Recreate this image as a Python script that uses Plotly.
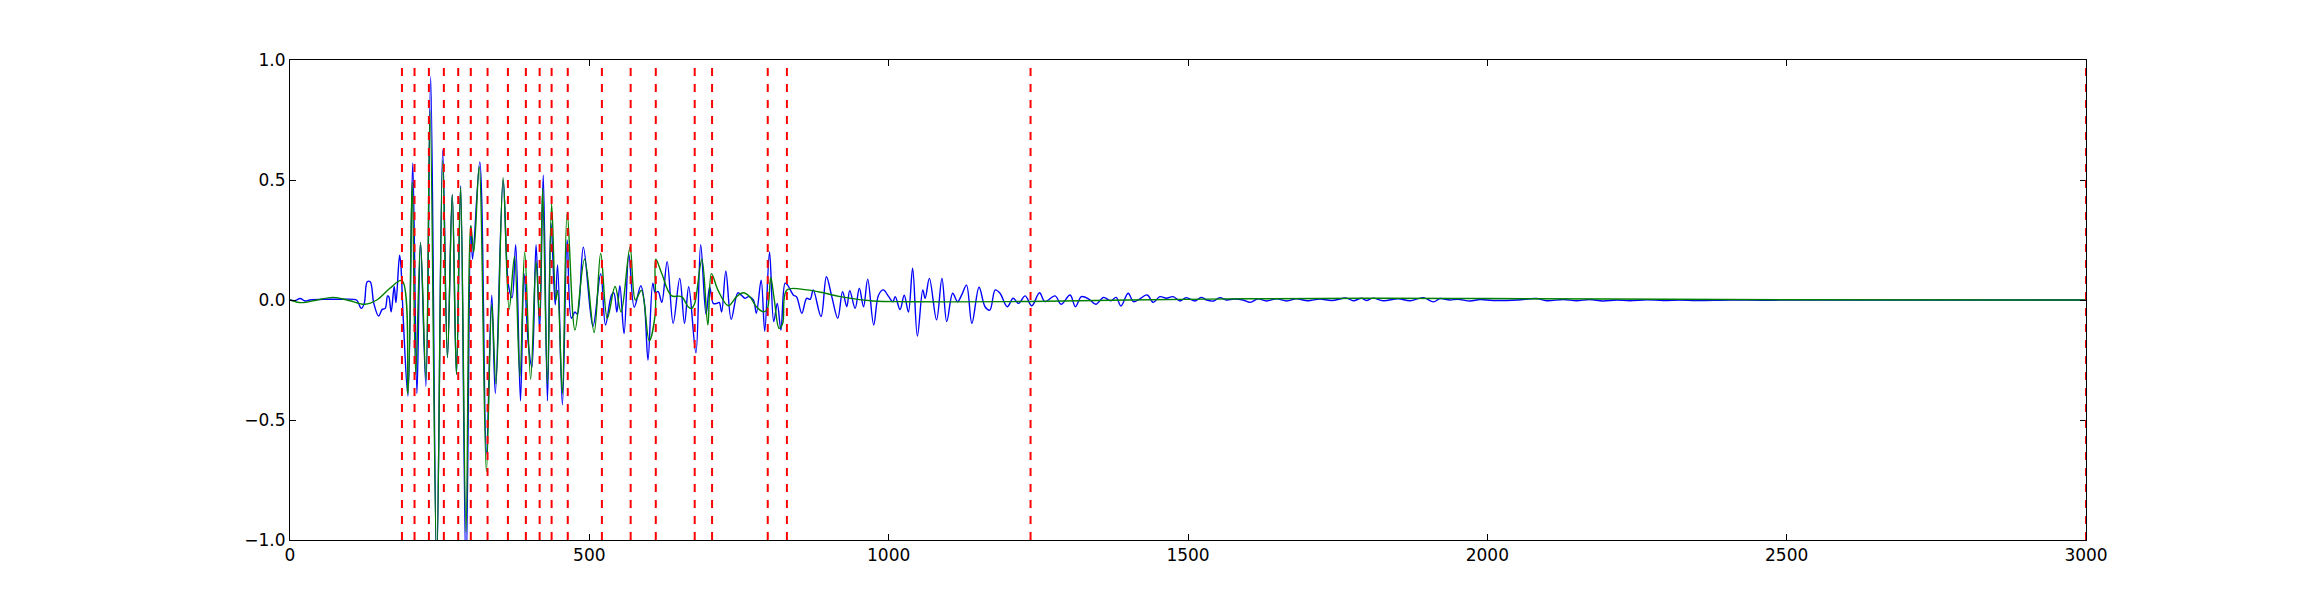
import plotly.graph_objects as go

# ---- data (extrema of each trace) ----
blue_x = [0, 8, 17, 25, 33, 56, 84, 111, 114, 119, 124, 129, 134, 140, 148, 154, 159, 163, 165, 169,
          174, 177, 183, 185, 189, 197, 205, 212, 218, 227, 235, 245, 255, 263, 271, 278, 285, 294,
          302, 305, 317, 328, 337, 343, 356, 365, 371, 377, 385, 391, 398, 404, 411, 417, 423, 430,
          436, 443, 447, 455, 463, 470, 476, 480, 490, 506, 519, 527, 537, 541, 546, 551, 558, 566,
          575, 586, 592, 598, 606, 610, 615, 621, 630, 640, 651, 659, 666, 678, 686, 695, 701, 707,
          713, 717, 721, 728, 737, 748, 754, 760, 766, 774, 779, 787, 793, 801, 808, 814, 820, 827,
          831, 841, 846, 855, 863, 869, 874, 887, 896, 905, 915, 923, 930, 935, 944, 951, 958, 965,
          975, 983, 991, 1000, 1007, 1011, 1019, 1026, 1033, 1040, 1048, 1057, 1061, 1068, 1080,
          1089, 1097, 1107, 1115, 1122, 1130, 1139, 1151, 1161, 1169, 1178, 1186, 1198, 1208, 1217,
          1228, 1239, 1252, 1261, 1278, 1288, 1303, 1312, 1322, 1335, 1346, 1359, 1371, 1380, 1388,
          1400, 1409, 1419, 1432, 1442, 1453, 1464, 1475, 1487, 1497, 1512, 1522, 1531, 1543, 1553,
          1565, 1576, 1592, 1604, 1617, 1631, 1648, 1665, 1681, 1700, 1720, 1740, 1765, 1776, 1790,
          1798, 1809, 1826, 1851, 1871, 1893, 1910, 1921, 1937, 1951, 1971, 1988, 2010, 2050, 2082,
          2099, 2127, 2149, 2171, 2193, 2216, 2238, 2266, 2294, 2322, 2349, 2405, 2461, 2517, 2600,
          2700, 2800, 2900, 3000]
blue_y = [0.0, -0.003, 0.006, -0.004, 0.0, 0.003, 0.003, 0.0, -0.011, -0.035, -0.014, 0.076, 0.076,
          -0.014, -0.067, -0.039, -0.035, 0.017, 0.014, -0.049, 0.056, -0.011, 0.187, 0.153, -0.07,
          -0.40, 0.57, -0.39, 0.24, -0.36, 0.93, -1.12, 0.625, -0.24, 0.44, -0.31, 0.475, -1.15,
          0.31, 0.17, 0.575, -0.64, 0.02, -0.39, 0.50, 0.06, 0.01, 0.23, -0.42, 0.11, -0.18, -0.28,
          0.23, -0.125, 0.52, -0.42, 0.32, -0.02, 0.146, -0.437, 0.25, -0.076, -0.05, -0.06, 0.22,
          -0.11, 0.11, -0.104, 0.02, 0.03, -0.05, 0.06, -0.14, 0.19, -0.03, 0.06, -0.014, -0.25,
          0.07, 0.03, 0.035, -0.01, 0.16, -0.097, 0.09, -0.097, 0.055, -0.22, 0.23, -0.06, 0.055,
          -0.014, -0.014, -0.01, -0.05, 0.12, -0.08, 0.03, 0.02, 0.007, 0.014, 0.0, -0.055, 0.083,
          -0.13, 0.2, -0.09, -0.014, -0.125, 0.07, 0.063, 0.02, 0.014, -0.055, 0.007, 0.003, 0.042,
          -0.069, 0.097, 0.014, -0.076, 0.035, -0.028, 0.039, -0.035, 0.049, -0.028, 0.087, -0.104,
          0.02, 0.042, 0.014, -0.007, 0.014, -0.04, 0.02, -0.05, 0.132, -0.15, 0.042, 0.007, 0.09,
          -0.083, 0.09, -0.09, 0.028, -0.007, 0.021, 0.062, -0.097, 0.053, -0.028, -0.042, 0.042,
          0.028, -0.028, 0.007, -0.014, 0.017, -0.024, 0.03, -0.007, 0.017, -0.018, 0.021, -0.028,
          0.014, 0.003, -0.018, 0.011, -0.003, 0.011, -0.025, 0.028, -0.007, 0.004, 0.021, -0.01,
          0.014, 0.007, 0.014, -0.004, 0.01, -0.004, 0.011, 0.0, -0.004, 0.01, 0.0, 0.004, 0.0,
          -0.01, 0.005, -0.004, 0.005, -0.004, 0.005, -0.003, 0.004, -0.002, 0.008, -0.003, 0.007,
          -0.002, 0.008, -0.003, 0.005, -0.003, 0.01, -0.008, 0.006, 0.0, 0.003, -0.004, 0.002,
          -0.002, 0.0, 0.006, -0.003, 0.002, -0.003, 0.002, -0.004, 0.0, -0.003, 0.001, -0.002,
          0.0, -0.002, 0.0, -0.001, 0.0, 0.0, 0.0, 0.0, 0.0, 0.0]

green_x = [0, 19, 45, 72, 100, 125, 145, 167, 187, 197, 204, 210, 218, 227, 234, 245, 255, 263, 271,
           278, 285, 294, 302, 307, 316, 328, 337, 344, 356, 366, 375, 384, 392, 402, 411, 417, 422,
           430, 437, 444, 447, 455, 463, 476, 492, 508, 519, 530, 543, 553, 568, 577, 587, 600, 610,
           611, 621, 637, 654, 665, 671, 676, 688, 698, 704, 715, 732, 746, 757, 768, 779, 791, 797,
           803, 809, 817, 823, 830, 863, 891, 919, 974, 1030, 1100, 1237, 1400, 1600, 1800, 2000,
           2200, 2500, 3000]
green_y = [0.0, -0.011, 0.0, 0.011, -0.003, -0.018, 0.0, 0.049, 0.081, -0.39, 0.49, -0.31, 0.24,
           -0.33, 0.79, -1.1, 0.58, -0.24, 0.44, -0.31, 0.47, -0.97, 0.31, 0.20, 0.555, -0.715,
           -0.02, -0.35, 0.51, -0.04, 0.18, -0.32, 0.20, -0.33, 0.16, -0.08, 0.465, -0.35, 0.40,
           0.0, 0.04, -0.39, 0.364, -0.125, 0.17, -0.135, 0.195, -0.076, 0.056, -0.05, 0.22, 0.0,
           0.04, -0.17, -0.06, 0.17, 0.11, 0.018, 0.014, -0.028, -0.035, -0.014, 0.17, -0.104, 0.11,
           0.04, -0.024, 0.014, 0.03, 0.014, -0.028, -0.049, -0.04, 0.094, 0.0, -0.118, -0.097,
           0.042, 0.042, 0.03, 0.014, -0.004, -0.007, -0.008, -0.006, 0.0, 0.005, 0.007, 0.006,
           0.004, 0.001, 0.0]

vline_x = [187, 208, 232, 257, 281, 302, 330, 364, 394, 417, 437, 464, 521, 569, 611, 676, 705,
           798, 830, 1237, 3000]

x_ticks = [0, 500, 1000, 1500, 2000, 2500, 3000]
y_ticks = [-1.0, -0.5, 0.0, 0.5, 1.0]

X_RANGE = [0, 3000]
Y_RANGE = [-1, 1]

fig = go.Figure()
fig.add_trace(go.Scatter(x=blue_x, y=blue_y, mode="lines",
                         line=dict(color="#0000ff", width=1.4, shape="spline", smoothing=1.0),
                         showlegend=False, hoverinfo="skip"))
fig.add_trace(go.Scatter(x=green_x, y=green_y, mode="lines",
                         line=dict(color="#008000", width=1.4, shape="spline", smoothing=1.0),
                         showlegend=False, hoverinfo="skip"))

for xv in vline_x:
    fig.add_shape(type="line", xref="x", yref="y", x0=xv, x1=xv, y0=Y_RANGE[0], y1=Y_RANGE[1],
                  line=dict(color="#ff0000", width=2, dash="8px,8px"), layer="above")

axis_common = dict(showgrid=False, zeroline=False, showline=True, linecolor="black", linewidth=1,
                   mirror="ticks", ticks="inside", ticklen=6, tickwidth=1, tickcolor="black",
                   tickfont=dict(family="DejaVu Sans", size=17, color="black"))

fig.update_xaxes(range=X_RANGE, tickvals=x_ticks, ticktext=[str(v) for v in x_ticks], **axis_common)
fig.update_yaxes(range=Y_RANGE, tickvals=y_ticks,
                 ticktext=[("\u2212" if v < 0 else "") + f"{abs(v):.1f}" for v in y_ticks],
                 **axis_common)

# the page body adds an 8px offset, so the figure is sized to keep the axes where the reference has them
fig.update_layout(width=2302, height=584, autosize=False,
                  margin=dict(l=282, r=224, t=52, b=52, pad=0),
                  paper_bgcolor="white", plot_bgcolor="white",
                  font=dict(family="DejaVu Sans", size=17, color="black"))

fig.write_html("out.html")
